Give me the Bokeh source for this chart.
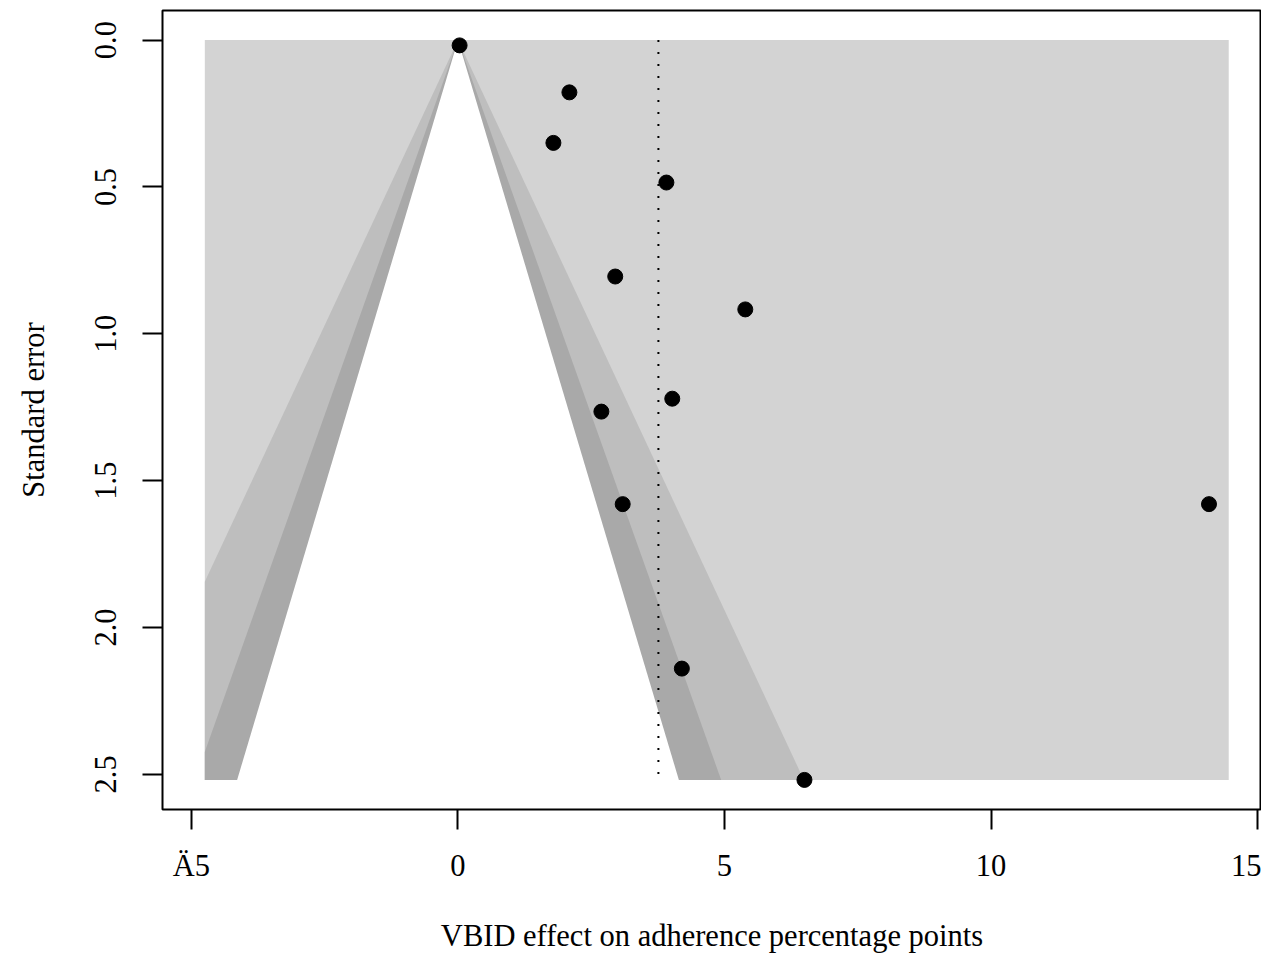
import numpy as np
from bokeh.plotting import figure
from bokeh.models import Range1d, FixedTicker, ColumnDataSource
from bokeh.embed import file_html
from bokeh.resources import INLINE

# ---- data ----
effect = [0.03, 2.09, 1.79, 3.91, 2.95, 5.39, 2.69, 4.02, 3.09, 14.09, 4.20, 6.50]
std_err = [0.018, 0.178, 0.350, 0.485, 0.805, 0.917, 1.265, 1.221, 1.580, 1.580, 2.140, 2.519]
pooled_estimate = 3.76
contour_z = [2.576, 1.960, 1.645]          # p = 0.01, 0.05, 0.10
contour_colors = ["#BEBEBE", "#A9A9A9", "#FFFFFF"]
back_color = "#D3D3D3"
shade_xlim = [-4.75, 14.46]
x_ticks = [-5, 0, 5, 10, 15]
x_tick_labels = ["Ä5", "0", "5", "10", "15"]
y_ticks = [0.0, 0.5, 1.0, 1.5, 2.0, 2.5]
y_tick_labels = ["0.0", "0.5", "1.0", "1.5", "2.0", "2.5"]
x_label = "VBID effect on adherence percentage points"
y_label = "Standard error"

FONT = "Liberation Serif"
FS = "30.5px"

se_max = max(std_err)
x_lo, x_hi = shade_xlim
ypad = 0.04 * se_max
# visible x window (layout): keeps the tick positions where the reference has them
X_VIEW = (-5.544, 15.075)

p = figure(frame_width=1099, frame_height=799,
           x_range=Range1d(*X_VIEW),
           y_range=Range1d(se_max + ypad, -ypad),
           output_backend="svg", toolbar_location=None,
           min_border_left=162, min_border_right=0,
           min_border_top=10, min_border_bottom=139)

p.background_fill_color = "white"
p.border_fill_color = "white"
p.outline_line_color = "black"
p.outline_line_width = 2
p.xgrid.visible = False
p.ygrid.visible = False

# background rectangle of the contour region
p.patch([x_lo, x_hi, x_hi, x_lo], [0, 0, se_max, se_max],
        fill_color=back_color, line_color=None)

se_grid = np.linspace(0, se_max, 2001)
for z, col in zip(contour_z, contour_colors):
    left = np.clip(-z * se_grid, x_lo, x_hi)
    right = np.clip(z * se_grid, x_lo, x_hi)
    xs = np.concatenate([left, right[::-1]])
    ys = np.concatenate([se_grid, se_grid[::-1]])
    p.patch(xs, ys, fill_color=col, line_color=None)

p.segment(x0=[pooled_estimate], y0=[0], x1=[pooled_estimate], y1=[se_max],
          line_color="black", line_width=2, line_dash="2 10")

src = ColumnDataSource(dict(x=effect, y=std_err))
p.scatter("x", "y", source=src, size=15, fill_color="black", line_color="black")

# axes
xa = p.xaxis[0]
xa.ticker = FixedTicker(ticks=x_ticks)
xa.major_label_overrides = {t: l for t, l in zip(x_ticks, x_tick_labels)}
ya = p.yaxis[0]
ya.ticker = FixedTicker(ticks=y_ticks)
ya.major_label_overrides = {t: l for t, l in zip(y_ticks, y_tick_labels)}
ya.major_label_orientation = "vertical"

for ax in (xa, ya):
    ax.axis_line_color = None
    ax.major_tick_in = 0
    ax.major_tick_out = 20
    ax.major_tick_line_width = 2
    ax.major_tick_line_color = "black"
    ax.minor_tick_line_color = None
    ax.major_label_text_font = FONT
    ax.major_label_text_font_size = FS
    ax.major_label_text_color = "black"
    ax.axis_label_text_font = FONT
    ax.axis_label_text_font_size = FS
    ax.axis_label_text_font_style = "normal"
    ax.axis_label_text_color = "black"

xa.axis_label = x_label
ya.axis_label = y_label
xa.major_label_standoff = 19
xa.axis_label_standoff = 33
ya.major_label_standoff = 26
ya.axis_label_standoff = 42

open("out.html", "w").write(file_html(p, INLINE))
